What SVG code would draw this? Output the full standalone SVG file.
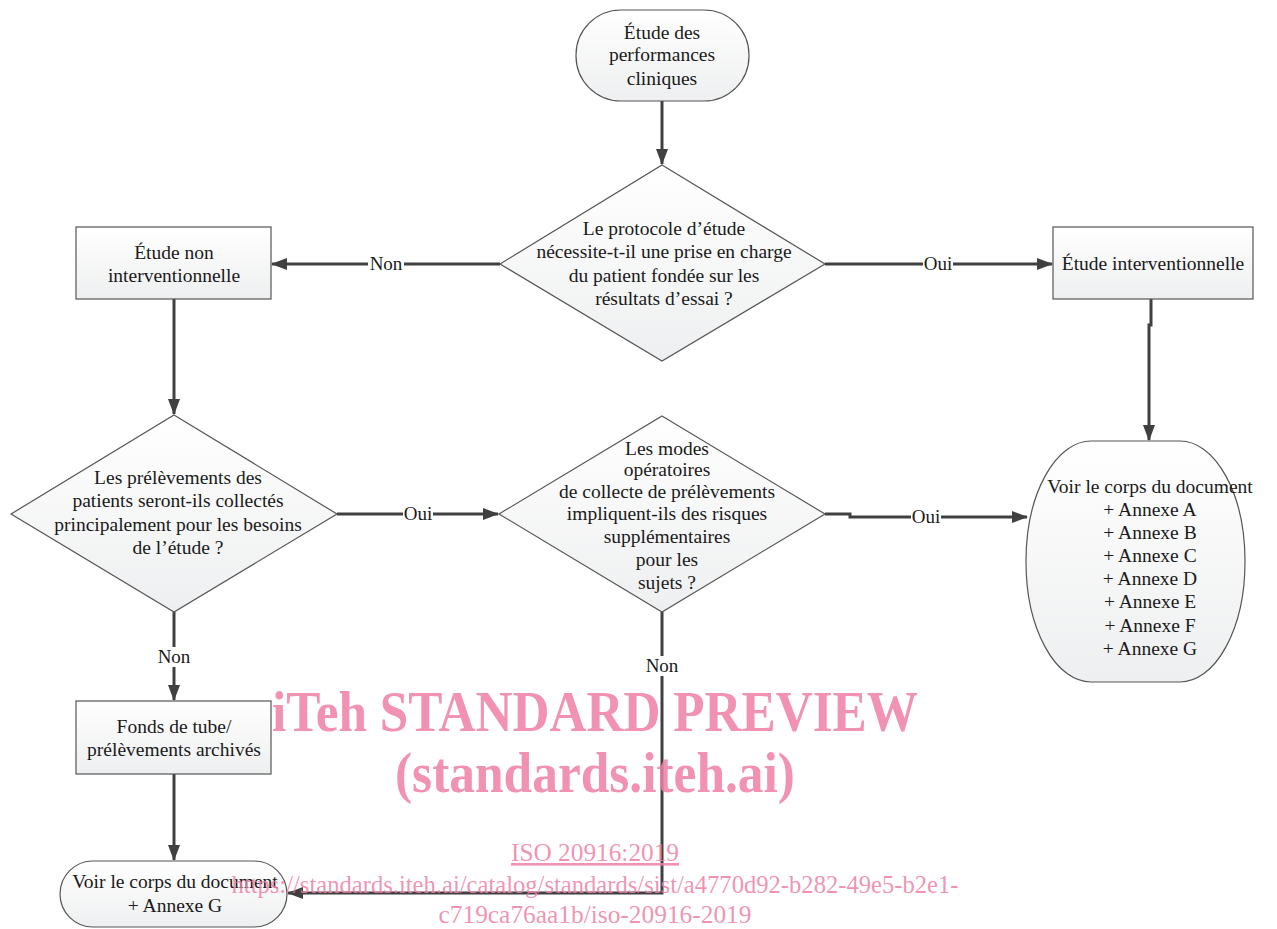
<svg xmlns="http://www.w3.org/2000/svg" width="1277" height="929" viewBox="0 0 1277 929">
<defs>
<linearGradient id="g" x1="0" y1="0" x2="0" y2="1">
<stop offset="0" stop-color="#ffffff"/>
<stop offset="1" stop-color="#eeeff0"/>
</linearGradient>
<marker id="ah" markerWidth="16" markerHeight="12" refX="15" refY="6" orient="auto" markerUnits="userSpaceOnUse">
<path d="M0,0 L16,6 L0,12 Z" fill="#404040"/>
</marker>
<style>
.s{fill:url(#g);stroke:#555;stroke-width:1.2}
.t{font-family:"Liberation Serif","Times New Roman",serif;font-size:19.5px;fill:#1a1a1a;text-anchor:middle}
.c{fill:none;stroke:#404040;stroke-width:3}
.lb{font-family:"Liberation Serif","Times New Roman",serif;font-size:19px;fill:#1a1a1a;text-anchor:middle}
.lbg{fill:#fff}
.w{font-family:"Liberation Serif","Times New Roman",serif;fill:#ee7fa4;fill-opacity:0.85;text-anchor:middle}
</style>
</defs>
<rect width="1277" height="929" fill="#fff"/>

<g id="connectors">
<path class="c" d="M662,101 V164" marker-end="url(#ah)"/>
<path class="c" d="M500,264 H272" marker-end="url(#ah)"/>
<path class="c" d="M825,264 H1052" marker-end="url(#ah)"/>
<path class="c" d="M1151,299 V325 H1149 V440" marker-end="url(#ah)"/>
<path class="c" d="M174,299 V414" marker-end="url(#ah)"/>
<path class="c" d="M337,514 H498" marker-end="url(#ah)"/>
<path class="c" d="M825,514 H850 V517 H1027" marker-end="url(#ah)"/>
<path class="c" d="M174,612 V700" marker-end="url(#ah)"/>
<path class="c" d="M174,774 V860" marker-end="url(#ah)"/>
<path class="c" d="M662,612 V893 H288" marker-end="url(#ah)"/>
<rect class="lbg" x="368" y="254" width="36" height="20"/>
<text class="lb" x="386" y="270">Non</text>
<rect class="lbg" x="923" y="254" width="30" height="20"/>
<text class="lb" x="938" y="270">Oui</text>
<rect class="lbg" x="403" y="504" width="30" height="20"/>
<text class="lb" x="418" y="520">Oui</text>
<rect class="lbg" x="911" y="507" width="30" height="20"/>
<text class="lb" x="926" y="523">Oui</text>
<rect class="lbg" x="156" y="647" width="36" height="20"/>
<text class="lb" x="174" y="663">Non</text>
<rect class="lbg" x="644" y="656" width="36" height="20"/>
<text class="lb" x="662" y="672">Non</text>
</g>

<g id="start">
<rect class="s" x="576" y="10" width="173" height="91" rx="45" ry="45"/>
<text class="t" x="662" y="39">Étude des</text>
<text class="t" x="662" y="61">performances</text>
<text class="t" x="662" y="85">cliniques</text>
</g>

<g id="decision1">
<polygon class="s" points="662,165 825,264 662,361 500,264"/>
<text class="t" x="664" y="235">Le protocole d’étude</text>
<text class="t" x="664" y="258">nécessite-t-il une prise en charge</text>
<text class="t" x="664" y="282">du patient fondée sur les</text>
<text class="t" x="664" y="305">résultats d’essai ?</text>
</g>

<g id="nonInterv">
<rect class="s" x="76" y="227" width="195" height="72"/>
<text class="t" x="174" y="259">Étude non</text>
<text class="t" x="174" y="282">interventionnelle</text>
</g>

<g id="interv">
<rect class="s" x="1053" y="227" width="200" height="72"/>
<text class="t" x="1153" y="270">Étude interventionnelle</text>
</g>

<g id="decision2">
<polygon class="s" points="174,415 337,514 174,612 11,514"/>
<text class="t" x="178" y="484">Les prélèvements des</text>
<text class="t" x="178" y="507">patients seront-ils collectés</text>
<text class="t" x="178" y="531">principalement pour les besoins</text>
<text class="t" x="178" y="554">de l’étude ?</text>
</g>

<g id="decision3">
<polygon class="s" points="662,416 825,514 662,612 499,514"/>
<text class="t" x="667" y="455">Les modes</text>
<text class="t" x="667" y="476">opératoires</text>
<text class="t" x="667" y="498">de collecte de prélèvements</text>
<text class="t" x="667" y="520">impliquent-ils des risques</text>
<text class="t" x="667" y="543">supplémentaires</text>
<text class="t" x="667" y="566">pour les</text>
<text class="t" x="667" y="589">sujets ?</text>
</g>

<g id="endAll">
<rect class="s" x="1026" y="441" width="219" height="241" rx="65" ry="120"/>
<text class="t" x="1150" y="493">Voir le corps du document</text>
<text class="t" x="1150" y="516">+ Annexe A</text>
<text class="t" x="1150" y="539">+ Annexe B</text>
<text class="t" x="1150" y="562">+ Annexe C</text>
<text class="t" x="1150" y="585">+ Annexe D</text>
<text class="t" x="1150" y="608">+ Annexe E</text>
<text class="t" x="1150" y="632">+ Annexe F</text>
<text class="t" x="1150" y="655">+ Annexe G</text>
</g>

<g id="archive">
<rect class="s" x="76" y="701" width="195" height="73"/>
<text class="t" x="174" y="733">Fonds de tube/</text>
<text class="t" x="174" y="756">prélèvements archivés</text>
</g>

<g id="endG">
<rect class="s" x="60" y="861" width="227" height="66" rx="33" ry="33"/>
<text class="t" x="175" y="888">Voir le corps du document</text>
<text class="t" x="175" y="912">+ Annexe G</text>
</g>

<g id="watermark">
<text class="w" x="595" y="731" font-size="56" font-weight="bold" textLength="646" lengthAdjust="spacingAndGlyphs">iTeh STANDARD PREVIEW</text>
<text class="w" x="595" y="792" font-size="56" font-weight="bold" textLength="400" lengthAdjust="spacingAndGlyphs">(standards.iteh.ai)</text>
<text class="w" x="595" y="861" font-size="26" text-decoration="underline" textLength="168" lengthAdjust="spacingAndGlyphs">ISO 20916:2019</text>
<text class="w" x="595" y="893" font-size="26" textLength="727" lengthAdjust="spacingAndGlyphs">https://standards.iteh.ai/catalog/standards/sist/a4770d92-b282-49e5-b2e1-</text>
<text class="w" x="595" y="923" font-size="26" textLength="313" lengthAdjust="spacingAndGlyphs">c719ca76aa1b/iso-20916-2019</text>
</g>
</svg>
